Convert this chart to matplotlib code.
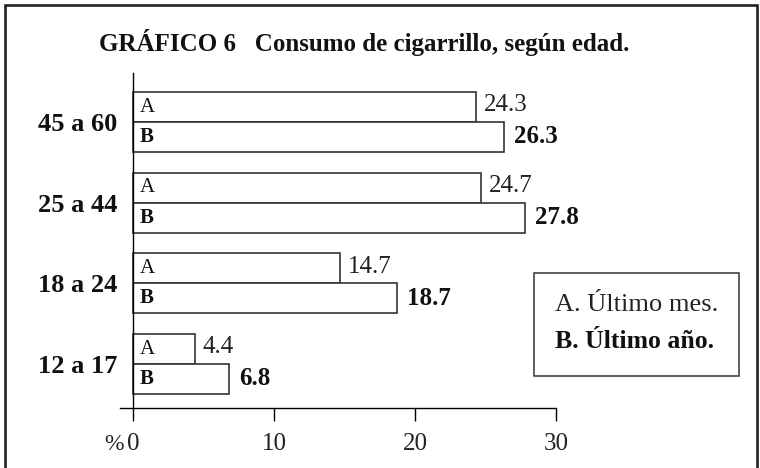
import matplotlib.pyplot as plt
import matplotlib.patches as patches
from matplotlib.transforms import blended_transform_factory

plt.rcParams['font.family'] = ['Liberation Serif', 'DejaVu Serif']

# data (porcentaje)
edades = ["12 a 17", "18 a 24", "25 a 44", "45 a 60"]
ultimo_mes = [4.4, 14.7, 24.7, 24.3]   # A
ultimo_anio = [6.8, 18.7, 27.8, 26.3]  # B
ticks_x = [0, 10, 20, 30]

W, H = 760, 468
fig = plt.figure(figsize=(W / 100, H / 100), dpi=100)

# marco exterior
frame = patches.Rectangle((5 / W, -0.05), 752 / W, 1.05 - 5 / H, transform=fig.transFigure,
                          fill=False, edgecolor='#222222', linewidth=1.9, clip_on=False)
fig.patches.append(frame)

fig.text(364 / W, 1 - 43 / H, "GRÁFICO 6   Consumo de cigarrillo, según edad.",
         ha='center', va='center', fontsize=18, fontweight='bold', color='#111111')

ax = fig.add_axes([120 / W, 60 / H, (556 - 120) / W, (408 - 73) / H])
ax.set_xlim(-0.92, 30)
ax.set_ylim(-0.545, 3.607)

pos = list(range(len(edades)))
h = 0.37
pos_a = [p + h / 2 for p in pos]
pos_b = [p - h / 2 for p in pos]

ax.barh(pos_a, ultimo_mes, height=h, color='white', edgecolor='#333333', linewidth=1.2)
ax.barh(pos_b, ultimo_anio, height=h, color='white', edgecolor='#333333', linewidth=1.2)

for ya, yb, va, vb in zip(pos_a, pos_b, ultimo_mes, ultimo_anio):
    ax.text(0.5, ya, "A", ha='left', va='center', fontsize=15, color='#111111')
    ax.text(0.5, yb, "B", ha='left', va='center', fontsize=15, fontweight='bold', color='#111111')
    ax.text(va + 0.55, ya + 0.02, f"{va:.1f}", ha='left', va='center', fontsize=18, color='#222222')
    ax.text(vb + 0.7, yb, f"{vb:.1f}", ha='left', va='center', fontsize=18,
            fontweight='bold', color='#111111')

ax.spines['top'].set_visible(False)
ax.spines['right'].set_visible(False)
ax.spines['left'].set_position(('data', 0))
ax.spines['left'].set_linewidth(1.0)
ax.spines['bottom'].set_linewidth(1.0)

ax.set_yticks(pos)
ax.set_yticklabels(edades, fontsize=19, fontweight='bold', color='#111111')
ax.tick_params(axis='y', length=0, pad=11)

ax.set_xticks(ticks_x)
ax.set_xticklabels([str(t) for t in ticks_x], fontsize=18, color='#222222')
ax.tick_params(axis='x', direction='out', length=9, width=1.0, pad=9)

trans = blended_transform_factory(ax.transData, ax.transAxes)
ax.text(-0.65, -(12 + 14) / 335, "%", transform=trans, ha='right', va='top',
        fontsize=17, color='#222222', clip_on=False)

# leyenda
leg = patches.Rectangle((534 / W, 1 - 376 / H), (739 - 534) / W, (376 - 273) / H,
                        transform=fig.transFigure, fill=False, edgecolor='#333333', linewidth=1.1)
fig.patches.append(leg)
fig.text(555 / W, 1 - 305 / H, "A. Último mes.", ha='left', va='center', fontsize=19, color='#222222')
fig.text(555 / W, 1 - 342 / H, "B. Último año.", ha='left', va='center', fontsize=18.5,
         fontweight='bold', color='#111111')

fig.savefig("out.png", dpi=100)
